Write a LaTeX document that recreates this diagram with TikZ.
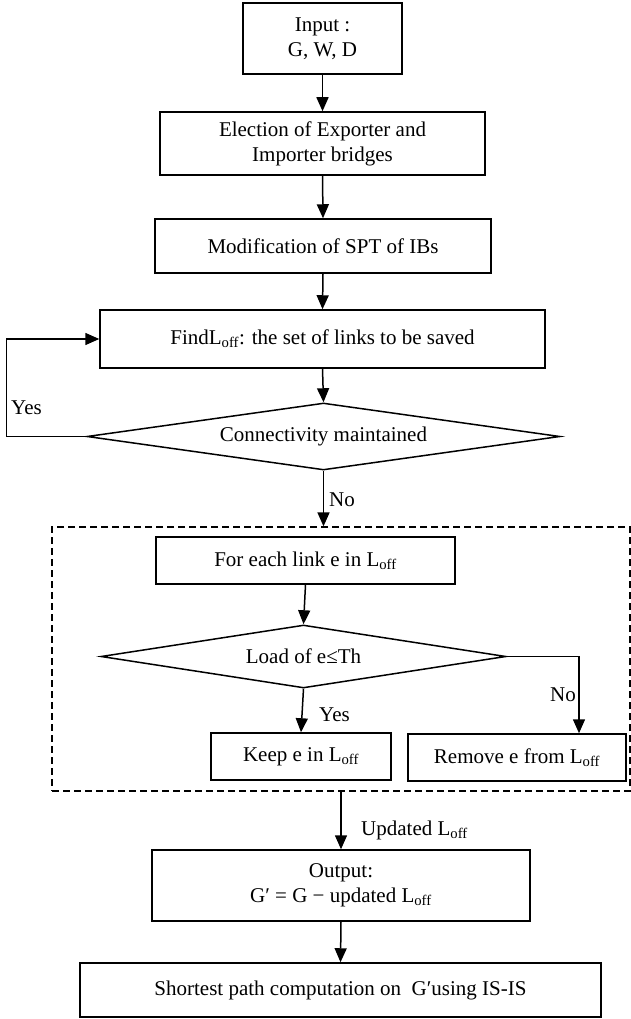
\documentclass[tikz,border=0pt]{standalone}
\usepackage{fontspec}
\setmainfont{Liberation Serif}
\usetikzlibrary{shapes.geometric,arrows.meta}
\newcommand{\Loff}{L\textsubscript{off}}
\begin{document}
\begin{tikzpicture}[x=1pt,y=1pt,
  every node/.style={font=\fontsize{21}{25}\selectfont},
  box/.style={draw,line width=1.5pt,inner sep=0pt,align=center},
  dia/.style={draw,diamond,line width=1.5pt,inner sep=0pt,aspect=7},
  grpbox/.style={draw,dashed,dash pattern=on 7pt off 4pt,line width=1.3pt,inner sep=0pt},
  arr/.style={-{Triangle[length=14pt,width=12pt]},line width=1.5pt},
  lbl/.style={anchor=west,inner sep=0pt}]
\useasboundingbox (0,0) rectangle (631,-1019);

\node[box,minimum width=159pt,minimum height=71pt] (in) at (322.5,-38.5) {Input :\\G, W, D};
\node[box,minimum width=325pt,minimum height=63pt] (elect) at (322.5,-143.5) {Election of Exporter and\\Importer bridges};
\node[box,minimum width=336pt,minimum height=54pt] (mod) at (323,-246) {Modification of SPT of IBs};
\node[box,minimum width=445pt,minimum height=58pt] (find) at (322.5,-339) {Find\Loff: the set of links to be saved};
\node[dia,minimum width=473pt,minimum height=67pt] (d1) at (323.5,-436.5) {Connectivity maintained};

\node[grpbox,minimum width=578pt,minimum height=264pt] (grp) at (341,-659) {};
\node[box,minimum width=299pt,minimum height=47pt] (each) at (305.5,-560.5) {For each link e in \Loff};
\node[dia,minimum width=405pt,minimum height=63pt] (d2) at (303.5,-656.5) {Load of e≤Th};
\node[box,minimum width=180pt,minimum height=47pt] (keep) at (301,-756.5) {Keep e in \Loff};
\node[box,minimum width=218pt,minimum height=47pt] (remove) at (517,-757.5) {Remove e from \Loff};

\node[box,minimum width=378pt,minimum height=71pt] (out) at (341,-885.5) {Output:\\G′ = G − updated \Loff};
\node[box,minimum width=521pt,minimum height=54pt] (short) at (340.5,-990) {Shortest path computation on\ \ G′using IS-IS};

\draw[arr] (in.south) -- (elect.north);
\draw[arr] (elect.south) -- (mod.north);
\draw[arr] (mod.south) -- (find.north);
\draw[arr] (find.south) -- (d1.north);
\draw[arr] (d1.west) -- ++(-80,0) |- (find.west);
\draw[arr] (d1.south) -- (d1.south |- grp.north);
\draw[arr] (each.south) -- (d2.north);
\draw[arr] (d2.south) -- (keep.north);
\draw[arr] (d2.east) -| ([xshift=62pt]remove.north);
\draw[arr] (out.north |- grp.south) -- (out.north);
\draw[arr] (out.south) -- (short.north);

\node[lbl] (yes1) at (11,-408) {Yes};
\node[lbl] (no1) at (329,-500) {No};
\node[lbl] (no2) at (550,-695) {No};
\node[lbl] (yes2) at (319,-715) {Yes};
\node[lbl] (upd) at (361,-830) {Updated \Loff};
\end{tikzpicture}
\end{document}
